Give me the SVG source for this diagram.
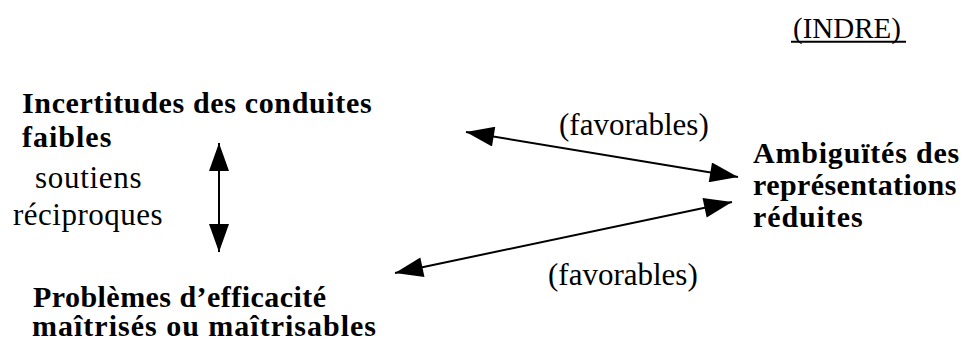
<svg xmlns="http://www.w3.org/2000/svg" width="967" height="341" viewBox="0 0 967 341">
  <defs>
    <marker id="ah" markerUnits="userSpaceOnUse" markerWidth="30" markerHeight="20" refX="28" refY="10" orient="auto-start-reverse" viewBox="0 0 28 20">
      <path d="M0,0 L28,10 L0,20 z" fill="#000"/>
    </marker>
  </defs>
  <rect width="967" height="341" fill="#fff"/>

  <g id="indre">
    <text x="793" y="37.5" font-family="Liberation Serif" style="font-family:'Liberation Serif',serif" font-size="29">(INDRE)</text>
    <line x1="791" y1="41.7" x2="906" y2="41.7" stroke="#000" stroke-width="2"/>
  </g>

  <g id="incertitudes">
    <text x="22" y="113" font-family="Liberation Serif" style="font-family:'Liberation Serif',serif" font-size="30" font-weight="bold" letter-spacing="0.65">Incertitudes des conduites</text>
    <text x="22" y="147" font-family="Liberation Serif" style="font-family:'Liberation Serif',serif" font-size="30" font-weight="bold" letter-spacing="1">faibles</text>
  </g>

  <g id="soutiens">
    <text x="35" y="188" font-family="Liberation Serif" style="font-family:'Liberation Serif',serif" font-size="31" letter-spacing="0.7">soutiens</text>
    <text x="13" y="225" font-family="Liberation Serif" style="font-family:'Liberation Serif',serif" font-size="31" letter-spacing="0.5">réciproques</text>
  </g>

  <g id="problemes">
    <text x="33" y="307" font-family="Liberation Serif" style="font-family:'Liberation Serif',serif" font-size="30" font-weight="bold" letter-spacing="0.45">Problèmes d’efficacité</text>
    <text x="32" y="336" font-family="Liberation Serif" style="font-family:'Liberation Serif',serif" font-size="30" font-weight="bold" letter-spacing="1">maîtrisés ou maîtrisables</text>
  </g>

  <g id="ambiguites">
    <text x="753" y="163" font-family="Liberation Serif" style="font-family:'Liberation Serif',serif" font-size="30" font-weight="bold" letter-spacing="0.8">Ambiguïtés des</text>
    <text x="753" y="195" font-family="Liberation Serif" style="font-family:'Liberation Serif',serif" font-size="30" font-weight="bold" letter-spacing="0.4">représentations</text>
    <text x="753" y="227" font-family="Liberation Serif" style="font-family:'Liberation Serif',serif" font-size="30" font-weight="bold" letter-spacing="0.9">réduites</text>
  </g>

  <g id="labels">
    <text x="559" y="135" font-family="Liberation Serif" style="font-family:'Liberation Serif',serif" font-size="31">(favorables)</text>
    <text x="548" y="285" font-family="Liberation Serif" style="font-family:'Liberation Serif',serif" font-size="31">(favorables)</text>
  </g>

  <g id="connectors" stroke="#000" stroke-width="2" fill="none">
    <line x1="219" y1="143" x2="219" y2="252" marker-start="url(#ah)" marker-end="url(#ah)"/>
    <line x1="466" y1="132" x2="738" y2="177" marker-start="url(#ah)" marker-end="url(#ah)"/>
    <line x1="395" y1="273" x2="732" y2="202" marker-start="url(#ah)" marker-end="url(#ah)"/>
  </g>
</svg>
